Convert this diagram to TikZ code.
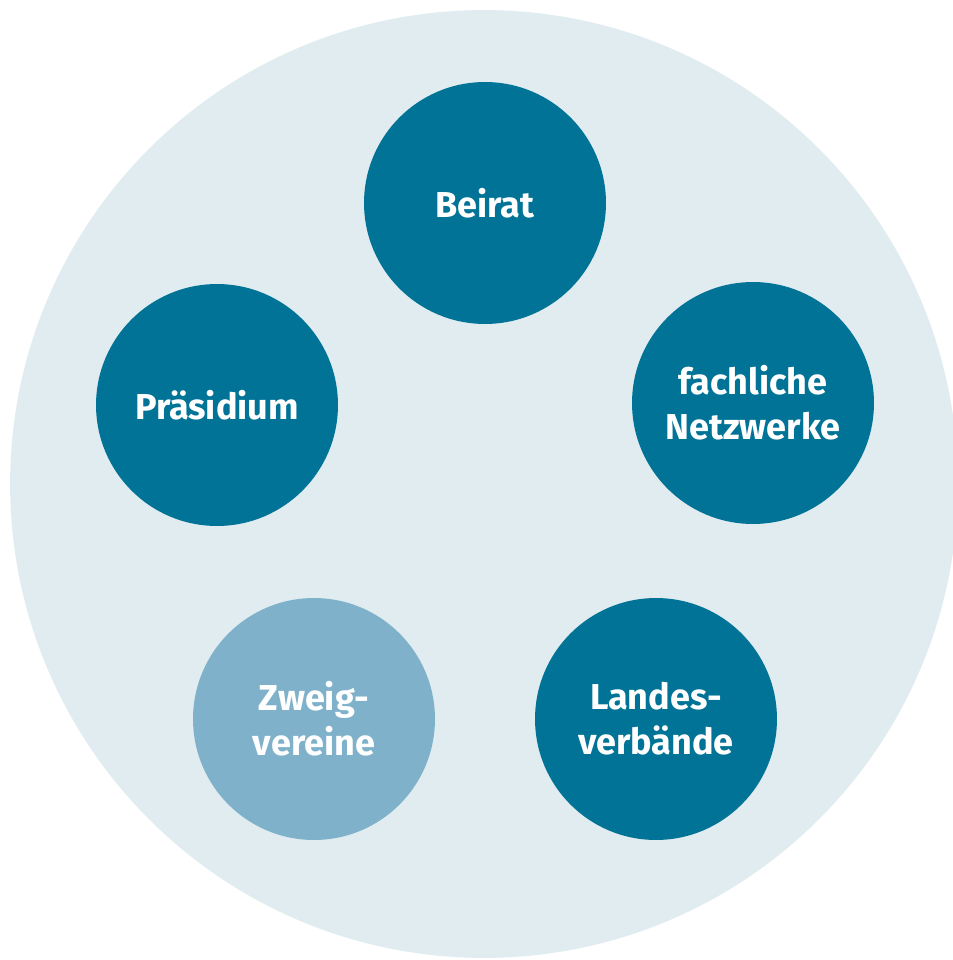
\documentclass[tikz,border=0pt]{standalone}
\usepackage{fontspec}
\setmainfont{Fira Sans}
\definecolor{bgblue}{RGB}{224,236,240}
\definecolor{darkteal}{RGB}{0,115,150}
\definecolor{lightteal}{RGB}{127,178,202}

\begin{document}
\begin{tikzpicture}[x=0.02cm,y=-0.02cm,
    organ/.style={circle, fill=darkteal, minimum size=4.84cm, inner sep=0pt,
      text=white, align=center, font=\fontsize{20.5}{25.5}\selectfont\bfseries},
    branch/.style={organ, fill=lightteal}]

      \useasboundingbox (0,0) rectangle (953,960);
      \clip (0,0) rectangle (953,960);

      % Background
      \fill[bgblue] (484,484) circle (9.48cm);

      % Bodies
      \node[organ] (beirat) at (485,203) {Beirat};
      \node[organ] (praesidium) at (217,405) {Präsidium};
      \node[organ] (netzwerke) at (753,403) {fachliche\\Netzwerke};
      \node[branch] (zweig) at (314,719) {Zweig-\\vereine};
      \node[organ] (landes) at (656,719) {Landes-\\verbände};

    \end{tikzpicture}
\end{document}
